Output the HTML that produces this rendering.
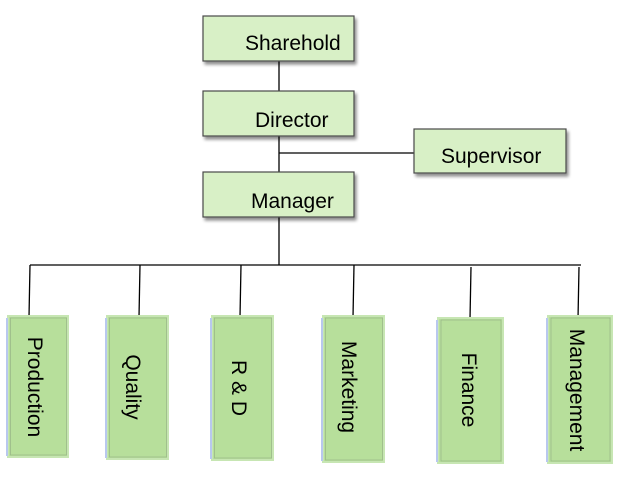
<!DOCTYPE html>
<html><head><meta charset="utf-8"><style>
html,body{margin:0;padding:0;background:#fff;}
svg{display:block;}
text{font-family:"Liberation Sans",Arial,sans-serif;font-size:21px;fill:#000;}
</style></head><body>
<svg width="628" height="479" viewBox="0 0 628 479" xmlns="http://www.w3.org/2000/svg">
<defs>
<filter id="sh" x="-20%" y="-20%" width="150%" height="160%">
<feGaussianBlur in="SourceAlpha" stdDeviation="1.5"/>
<feOffset dx="2" dy="3" result="b"/>
<feComponentTransfer><feFuncA type="linear" slope="0.45"/></feComponentTransfer>
<feMerge><feMergeNode/><feMergeNode in="SourceGraphic"/></feMerge>
</filter>
</defs>
<!-- connectors -->
<g stroke="#000" stroke-width="1.3" fill="none">
<line x1="279" y1="61" x2="279" y2="91"/>
<line x1="279" y1="136" x2="279" y2="172"/>
<line x1="279" y1="153" x2="415" y2="153"/>
<line x1="279" y1="217" x2="279" y2="265"/>
<line x1="30" y1="265" x2="581" y2="265"/>
<line x1="30" y1="265" x2="29" y2="317"/>
<line x1="140" y1="265" x2="139" y2="317"/>
<line x1="241" y1="265" x2="240" y2="317"/>
<line x1="354" y1="265" x2="353" y2="317"/>
<line x1="471" y1="267" x2="470" y2="319"/>
<line x1="579" y1="267" x2="578" y2="319"/>
</g>
<!-- top boxes -->
<g fill="#d8f0c6" stroke="#4a4a4a" stroke-width="1.2" filter="url(#sh)">
<rect x="203" y="16" width="151" height="45"/>
<rect x="203" y="91" width="151" height="45"/>
<rect x="203" y="172" width="151" height="45"/>
<rect x="414" y="129" width="152" height="44"/>
</g>
<text x="245" y="50">Sharehold</text>
<text x="255" y="127">Director</text>
<text x="251" y="208">Manager</text>
<text x="441" y="163">Supervisor</text>
<!-- bottom boxes -->
<g>
<g fill="#b7df9b" stroke="#c7e6b3" stroke-width="2">
<rect x="8" y="316" width="60" height="141"/>
<rect x="107" y="316" width="61" height="143"/>
<rect x="212" y="316" width="61" height="144"/>
<rect x="323" y="316" width="61" height="146"/>
<rect x="438" y="318" width="65" height="145"/>
<rect x="548" y="316" width="64" height="147"/>
</g>
<g fill="none" stroke="#9ab889" stroke-width="0.8">
<rect x="10.5" y="318" width="56" height="137"/>
<rect x="109.5" y="318" width="57" height="139"/>
<rect x="214.5" y="318" width="57" height="140"/>
<rect x="325.5" y="318" width="57" height="142"/>
<rect x="441" y="320" width="60" height="141"/>
<rect x="551" y="318" width="59" height="143"/>
</g>
<g stroke="#b8c8ee" stroke-width="2">
<line x1="7" y1="318" x2="7" y2="456"/>
<line x1="106" y1="318" x2="106" y2="458"/>
<line x1="211" y1="318" x2="211" y2="459"/>
<line x1="322" y1="318" x2="322" y2="461"/>
<line x1="437" y1="320" x2="437" y2="462"/>
<line x1="547" y1="318" x2="547" y2="462"/>
</g>
</g>
<text transform="translate(28,387) rotate(90)" text-anchor="middle">Production</text>
<text transform="translate(126,387) rotate(90)" text-anchor="middle">Quality</text>
<text transform="translate(232,388) rotate(90)" text-anchor="middle">R &amp; D</text>
<text transform="translate(342,387) rotate(90)" text-anchor="middle">Marketing</text>
<text transform="translate(462,390) rotate(90)" text-anchor="middle">Finance</text>
<text transform="translate(570,390) rotate(90)" text-anchor="middle">Management</text>
</svg>
</body></html>
